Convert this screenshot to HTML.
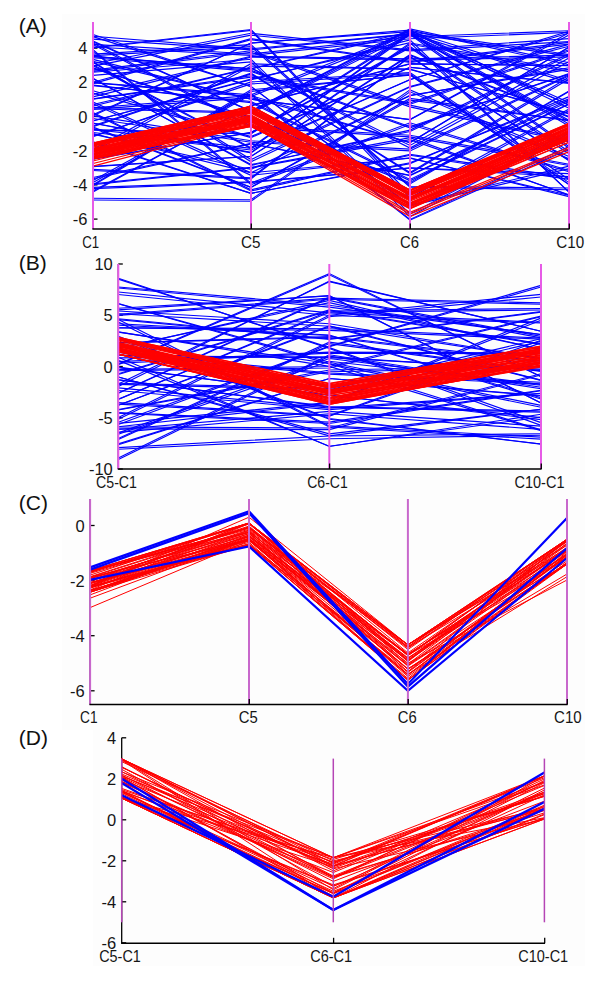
<!DOCTYPE html>
<html><head><meta charset="utf-8"><style>
html,body{margin:0;padding:0;background:#fff;}
svg{display:block;font-family:"Liberation Sans", sans-serif;}
</style></head><body>
<svg width="600" height="988" viewBox="0 0 600 988">
<rect x="62" y="14" width="523" height="238" fill="#fdfdfd"/>
<rect x="62" y="252" width="523" height="240" fill="#fdfdfd"/>
<rect x="62" y="492" width="523" height="238" fill="#fdfdfd"/>
<rect x="93" y="730" width="492" height="236" fill="#fdfdfd"/>
<line x1="93" y1="22" x2="93" y2="229" stroke="#000" stroke-width="1.3"/>
<line x1="93" y1="48.1" x2="97.5" y2="48.1" stroke="#000" stroke-width="1.3"/>
<line x1="93" y1="82.3" x2="97.5" y2="82.3" stroke="#000" stroke-width="1.3"/>
<line x1="93" y1="116.5" x2="97.5" y2="116.5" stroke="#000" stroke-width="1.3"/>
<line x1="93" y1="150.7" x2="97.5" y2="150.7" stroke="#000" stroke-width="1.3"/>
<line x1="93" y1="184.9" x2="97.5" y2="184.9" stroke="#000" stroke-width="1.3"/>
<line x1="93" y1="219.1" x2="97.5" y2="219.1" stroke="#000" stroke-width="1.3"/>
<polyline points="93.0,36.6 251.0,86.6 410.0,205.8 569.0,168.6" fill="none" stroke="#0000ff" stroke-width="1.15"/>
<polyline points="93.0,34.5 251.0,86.4 410.0,204.9 569.0,166.1" fill="none" stroke="#0000ff" stroke-width="1.15"/>
<polyline points="93.0,39.1 251.0,49.9 410.0,34.2 569.0,125.9" fill="none" stroke="#0000ff" stroke-width="1.15"/>
<polyline points="93.0,36.2 251.0,48.8 410.0,33.9 569.0,124.0" fill="none" stroke="#0000ff" stroke-width="1.15"/>
<polyline points="93.0,41.7 251.0,111.3 410.0,30.2 569.0,64.8" fill="none" stroke="#0000ff" stroke-width="1.15"/>
<polyline points="93.0,41.0 251.0,111.0 410.0,28.9 569.0,62.8" fill="none" stroke="#0000ff" stroke-width="1.15"/>
<polyline points="93.0,44.6 251.0,127.5 410.0,136.9 569.0,165.5" fill="none" stroke="#0000ff" stroke-width="1.15"/>
<polyline points="93.0,42.9 251.0,126.1 410.0,135.2 569.0,164.2" fill="none" stroke="#0000ff" stroke-width="1.15"/>
<polyline points="93.0,47.0 251.0,55.4 410.0,38.8 569.0,32.4" fill="none" stroke="#0000ff" stroke-width="1.15"/>
<polyline points="93.0,44.4 251.0,54.0 410.0,36.8 569.0,30.8" fill="none" stroke="#0000ff" stroke-width="1.15"/>
<polyline points="93.0,48.0 251.0,30.4 410.0,197.8 569.0,110.4" fill="none" stroke="#0000ff" stroke-width="1.15"/>
<polyline points="93.0,47.5 251.0,29.5 410.0,194.7 569.0,109.0" fill="none" stroke="#0000ff" stroke-width="1.15"/>
<polyline points="93.0,50.9 251.0,184.7 410.0,124.5 569.0,171.7" fill="none" stroke="#0000ff" stroke-width="1.15"/>
<polyline points="93.0,49.6 251.0,183.1 410.0,122.8 569.0,170.5" fill="none" stroke="#0000ff" stroke-width="1.15"/>
<polyline points="93.0,55.6 251.0,46.6 410.0,187.3 569.0,189.8" fill="none" stroke="#0000ff" stroke-width="1.15"/>
<polyline points="93.0,54.1 251.0,44.7 410.0,186.3 569.0,188.0" fill="none" stroke="#0000ff" stroke-width="1.15"/>
<polyline points="93.0,57.7 251.0,71.4 410.0,127.9 569.0,73.5" fill="none" stroke="#0000ff" stroke-width="1.15"/>
<polyline points="93.0,56.2 251.0,70.3 410.0,126.7 569.0,74.1" fill="none" stroke="#0000ff" stroke-width="1.15"/>
<polyline points="93.0,61.4 251.0,99.2 410.0,119.6 569.0,34.9" fill="none" stroke="#0000ff" stroke-width="1.15"/>
<polyline points="93.0,59.4 251.0,99.3 410.0,119.6 569.0,32.7" fill="none" stroke="#0000ff" stroke-width="1.15"/>
<polyline points="93.0,62.2 251.0,161.8 410.0,87.1 569.0,46.2" fill="none" stroke="#0000ff" stroke-width="1.15"/>
<polyline points="93.0,61.7 251.0,159.6 410.0,86.5 569.0,44.4" fill="none" stroke="#0000ff" stroke-width="1.15"/>
<polyline points="93.0,66.1 251.0,35.2 410.0,50.9 569.0,41.6" fill="none" stroke="#0000ff" stroke-width="1.15"/>
<polyline points="93.0,63.7 251.0,33.3 410.0,49.8 569.0,38.6" fill="none" stroke="#0000ff" stroke-width="1.15"/>
<polyline points="93.0,67.8 251.0,119.4 410.0,183.9 569.0,91.5" fill="none" stroke="#0000ff" stroke-width="1.15"/>
<polyline points="93.0,68.4 251.0,117.4 410.0,182.7 569.0,90.9" fill="none" stroke="#0000ff" stroke-width="1.15"/>
<polyline points="93.0,71.4 251.0,52.3 410.0,106.9 569.0,141.7" fill="none" stroke="#0000ff" stroke-width="1.15"/>
<polyline points="93.0,70.1 251.0,50.8 410.0,105.1 569.0,140.3" fill="none" stroke="#0000ff" stroke-width="1.15"/>
<polyline points="93.0,75.4 251.0,61.9 410.0,216.6 569.0,133.2" fill="none" stroke="#0000ff" stroke-width="1.15"/>
<polyline points="93.0,72.2 251.0,59.3 410.0,213.9 569.0,131.5" fill="none" stroke="#0000ff" stroke-width="1.15"/>
<polyline points="93.0,78.8 251.0,164.6 410.0,131.5 569.0,55.5" fill="none" stroke="#0000ff" stroke-width="1.15"/>
<polyline points="93.0,78.2 251.0,165.4 410.0,130.1 569.0,53.8" fill="none" stroke="#0000ff" stroke-width="1.15"/>
<polyline points="93.0,83.6 251.0,39.7 410.0,62.5 569.0,44.1" fill="none" stroke="#0000ff" stroke-width="1.15"/>
<polyline points="93.0,82.3 251.0,38.7 410.0,61.7 569.0,42.4" fill="none" stroke="#0000ff" stroke-width="1.15"/>
<polyline points="93.0,85.1 251.0,102.6 410.0,180.8 569.0,104.2" fill="none" stroke="#0000ff" stroke-width="1.15"/>
<polyline points="93.0,85.6 251.0,101.5 410.0,179.4 569.0,103.7" fill="none" stroke="#0000ff" stroke-width="1.15"/>
<polyline points="93.0,93.1 251.0,137.6 410.0,67.4 569.0,83.4" fill="none" stroke="#0000ff" stroke-width="1.15"/>
<polyline points="93.0,90.7 251.0,136.6 410.0,67.3 569.0,82.7" fill="none" stroke="#0000ff" stroke-width="1.15"/>
<polyline points="93.0,96.9 251.0,57.1 410.0,60.2 569.0,56.9" fill="none" stroke="#0000ff" stroke-width="1.15"/>
<polyline points="93.0,94.4 251.0,56.3 410.0,58.9 569.0,55.1" fill="none" stroke="#0000ff" stroke-width="1.15"/>
<polyline points="93.0,99.1 251.0,77.1 410.0,104.2 569.0,51.0" fill="none" stroke="#0000ff" stroke-width="1.15"/>
<polyline points="93.0,98.9 251.0,75.8 410.0,102.8 569.0,49.8" fill="none" stroke="#0000ff" stroke-width="1.15"/>
<polyline points="93.0,103.8 251.0,175.3 410.0,157.9 569.0,196.6" fill="none" stroke="#0000ff" stroke-width="1.15"/>
<polyline points="93.0,102.0 251.0,172.8 410.0,158.3 569.0,195.2" fill="none" stroke="#0000ff" stroke-width="1.15"/>
<polyline points="93.0,106.0 251.0,68.2 410.0,148.0 569.0,61.5" fill="none" stroke="#0000ff" stroke-width="1.15"/>
<polyline points="93.0,104.5 251.0,67.9 410.0,145.4 569.0,58.0" fill="none" stroke="#0000ff" stroke-width="1.15"/>
<polyline points="93.0,109.4 251.0,97.6 410.0,142.6 569.0,46.9" fill="none" stroke="#0000ff" stroke-width="1.15"/>
<polyline points="93.0,107.8 251.0,95.6 410.0,142.6 569.0,47.2" fill="none" stroke="#0000ff" stroke-width="1.15"/>
<polyline points="93.0,113.6 251.0,191.0 410.0,155.3 569.0,179.4" fill="none" stroke="#0000ff" stroke-width="1.15"/>
<polyline points="93.0,112.6 251.0,189.8 410.0,154.4 569.0,177.5" fill="none" stroke="#0000ff" stroke-width="1.15"/>
<polyline points="93.0,115.7 251.0,43.0 410.0,31.6 569.0,108.2" fill="none" stroke="#0000ff" stroke-width="1.15"/>
<polyline points="93.0,114.8 251.0,43.1 410.0,30.2 569.0,105.2" fill="none" stroke="#0000ff" stroke-width="1.15"/>
<polyline points="93.0,118.5 251.0,142.3 410.0,150.9 569.0,75.7" fill="none" stroke="#0000ff" stroke-width="1.15"/>
<polyline points="93.0,115.9 251.0,140.8 410.0,149.1 569.0,74.8" fill="none" stroke="#0000ff" stroke-width="1.15"/>
<polyline points="93.0,121.0 251.0,79.1 410.0,42.7 569.0,192.1" fill="none" stroke="#0000ff" stroke-width="1.15"/>
<polyline points="93.0,120.8 251.0,79.8 410.0,39.9 569.0,192.1" fill="none" stroke="#0000ff" stroke-width="1.15"/>
<polyline points="93.0,123.3 251.0,152.9 410.0,44.3 569.0,71.6" fill="none" stroke="#0000ff" stroke-width="1.15"/>
<polyline points="93.0,123.0 251.0,152.4 410.0,43.0 569.0,69.8" fill="none" stroke="#0000ff" stroke-width="1.15"/>
<polyline points="93.0,125.8 251.0,73.1 410.0,173.5 569.0,79.0" fill="none" stroke="#0000ff" stroke-width="1.15"/>
<polyline points="93.0,126.6 251.0,74.0 410.0,172.5 569.0,77.1" fill="none" stroke="#0000ff" stroke-width="1.15"/>
<polyline points="93.0,128.3 251.0,187.4 410.0,100.1 569.0,120.6" fill="none" stroke="#0000ff" stroke-width="1.15"/>
<polyline points="93.0,127.1 251.0,187.3 410.0,98.4 569.0,120.3" fill="none" stroke="#0000ff" stroke-width="1.15"/>
<polyline points="93.0,132.5 251.0,150.0 410.0,79.5 569.0,33.0" fill="none" stroke="#0000ff" stroke-width="1.15"/>
<polyline points="93.0,129.2 251.0,148.3 410.0,79.8 569.0,31.3" fill="none" stroke="#0000ff" stroke-width="1.15"/>
<polyline points="93.0,133.5 251.0,172.8 410.0,95.4 569.0,69.4" fill="none" stroke="#0000ff" stroke-width="1.15"/>
<polyline points="93.0,134.1 251.0,169.5 410.0,95.8 569.0,67.8" fill="none" stroke="#0000ff" stroke-width="1.15"/>
<polyline points="93.0,136.0 251.0,83.9 410.0,73.8 569.0,182.6" fill="none" stroke="#0000ff" stroke-width="1.15"/>
<polyline points="93.0,136.6 251.0,81.9 410.0,72.6 569.0,179.6" fill="none" stroke="#0000ff" stroke-width="1.15"/>
<polyline points="93.0,142.8 251.0,193.3 410.0,162.8 569.0,98.7" fill="none" stroke="#0000ff" stroke-width="1.15"/>
<polyline points="93.0,141.9 251.0,193.3 410.0,163.6 569.0,96.6" fill="none" stroke="#0000ff" stroke-width="1.15"/>
<polyline points="93.0,151.7 251.0,66.0 410.0,69.1 569.0,113.9" fill="none" stroke="#0000ff" stroke-width="1.15"/>
<polyline points="93.0,149.2 251.0,63.7 410.0,69.5 569.0,113.2" fill="none" stroke="#0000ff" stroke-width="1.15"/>
<polyline points="93.0,158.8 251.0,132.6 410.0,47.7 569.0,153.7" fill="none" stroke="#0000ff" stroke-width="1.15"/>
<polyline points="93.0,159.3 251.0,132.3 410.0,46.5 569.0,151.4" fill="none" stroke="#0000ff" stroke-width="1.15"/>
<polyline points="93.0,166.7 251.0,156.5 410.0,55.5 569.0,117.2" fill="none" stroke="#0000ff" stroke-width="1.15"/>
<polyline points="93.0,166.4 251.0,156.3 410.0,54.7 569.0,116.6" fill="none" stroke="#0000ff" stroke-width="1.15"/>
<polyline points="93.0,170.5 251.0,178.9 410.0,56.8 569.0,160.7" fill="none" stroke="#0000ff" stroke-width="1.15"/>
<polyline points="93.0,169.4 251.0,177.8 410.0,56.5 569.0,160.3" fill="none" stroke="#0000ff" stroke-width="1.15"/>
<polyline points="93.0,178.7 251.0,143.9 410.0,175.6 569.0,101.6" fill="none" stroke="#0000ff" stroke-width="1.15"/>
<polyline points="93.0,177.5 251.0,143.4 410.0,175.2 569.0,99.7" fill="none" stroke="#0000ff" stroke-width="1.15"/>
<polyline points="93.0,182.4 251.0,94.8 410.0,220.2 569.0,149.2" fill="none" stroke="#0000ff" stroke-width="1.15"/>
<polyline points="93.0,180.5 251.0,93.5 410.0,219.4 569.0,146.6" fill="none" stroke="#0000ff" stroke-width="1.15"/>
<polyline points="93.0,184.7 251.0,167.9 410.0,139.7 569.0,194.7" fill="none" stroke="#0000ff" stroke-width="1.15"/>
<polyline points="93.0,183.9 251.0,167.4 410.0,137.7 569.0,195.3" fill="none" stroke="#0000ff" stroke-width="1.15"/>
<polyline points="93.0,185.6 251.0,91.4 410.0,74.7 569.0,184.6" fill="none" stroke="#0000ff" stroke-width="1.15"/>
<polyline points="93.0,184.7 251.0,89.8 410.0,75.1 569.0,184.5" fill="none" stroke="#0000ff" stroke-width="1.15"/>
<polyline points="93.0,188.6 251.0,182.5 410.0,167.9 569.0,176.6" fill="none" stroke="#0000ff" stroke-width="1.15"/>
<polyline points="93.0,187.4 251.0,181.9 410.0,168.0 569.0,173.6" fill="none" stroke="#0000ff" stroke-width="1.15"/>
<polyline points="93.0,192.0 251.0,105.4 410.0,64.0 569.0,65.5" fill="none" stroke="#0000ff" stroke-width="1.15"/>
<polyline points="93.0,191.1 251.0,105.9 410.0,63.7 569.0,65.7" fill="none" stroke="#0000ff" stroke-width="1.15"/>
<polyline points="93.0,200.0 251.0,201.2 410.0,91.8 569.0,158.9" fill="none" stroke="#0000ff" stroke-width="1.15"/>
<polyline points="93.0,198.2 251.0,199.7 410.0,89.9 569.0,156.5" fill="none" stroke="#0000ff" stroke-width="1.15"/>
<polyline points="93.0,56.4 251.0,68.8 410.0,33.6 569.0,55.9" fill="none" stroke="#0000ff" stroke-width="1.15"/>
<polyline points="93.0,56.6 251.0,68.7 410.0,31.8 569.0,54.5" fill="none" stroke="#0000ff" stroke-width="1.15"/>
<polyline points="93.0,82.7 251.0,96.6 410.0,33.7 569.0,82.6" fill="none" stroke="#0000ff" stroke-width="1.15"/>
<polyline points="93.0,82.6 251.0,94.9 410.0,31.3 569.0,80.7" fill="none" stroke="#0000ff" stroke-width="1.15"/>
<polyline points="93.0,108.8 251.0,113.4 410.0,34.3 569.0,104.8" fill="none" stroke="#0000ff" stroke-width="1.15"/>
<polyline points="93.0,107.3 251.0,112.5 410.0,32.1 569.0,102.5" fill="none" stroke="#0000ff" stroke-width="1.15"/>
<polyline points="93.0,130.3 251.0,133.7 410.0,34.5 569.0,121.6" fill="none" stroke="#0000ff" stroke-width="1.15"/>
<polyline points="93.0,129.6 251.0,133.7 410.0,32.8 569.0,120.2" fill="none" stroke="#0000ff" stroke-width="1.15"/>
<polyline points="93.0,64.8 251.0,147.7 410.0,34.5 569.0,148.2" fill="none" stroke="#0000ff" stroke-width="1.15"/>
<polyline points="93.0,65.7 251.0,148.6 410.0,32.8 569.0,146.5" fill="none" stroke="#0000ff" stroke-width="1.15"/>
<polyline points="93.0,143.3 251.0,108.5 410.0,190.0 569.0,125.1" fill="none" stroke="#ff0000" stroke-width="1.2"/>
<polyline points="93.0,143.2 251.0,106.5 410.0,193.6 569.0,124.2" fill="none" stroke="#ff0000" stroke-width="1.2"/>
<polyline points="93.0,143.9 251.0,108.7 410.0,192.8 569.0,124.4" fill="none" stroke="#ff0000" stroke-width="1.2"/>
<polyline points="93.0,145.1 251.0,106.4 410.0,191.0 569.0,124.2" fill="none" stroke="#ff0000" stroke-width="1.2"/>
<polyline points="93.0,143.0 251.0,106.2 410.0,190.0 569.0,125.0" fill="none" stroke="#ff0000" stroke-width="1.2"/>
<polyline points="93.0,144.9 251.0,108.4 410.0,192.6 569.0,123.8" fill="none" stroke="#ff0000" stroke-width="1.2"/>
<polyline points="93.0,145.4 251.0,109.8 410.0,194.1 569.0,125.0" fill="none" stroke="#ff0000" stroke-width="1.2"/>
<polyline points="93.0,145.4 251.0,106.6 410.0,192.6 569.0,123.4" fill="none" stroke="#ff0000" stroke-width="1.2"/>
<polyline points="93.0,144.4 251.0,112.2 410.0,190.5 569.0,128.3" fill="none" stroke="#ff0000" stroke-width="1.2"/>
<polyline points="93.0,147.1 251.0,110.4 410.0,195.0 569.0,128.4" fill="none" stroke="#ff0000" stroke-width="1.2"/>
<polyline points="93.0,148.4 251.0,111.0 410.0,193.8 569.0,127.1" fill="none" stroke="#ff0000" stroke-width="1.2"/>
<polyline points="93.0,146.2 251.0,111.8 410.0,194.0 569.0,130.1" fill="none" stroke="#ff0000" stroke-width="1.2"/>
<polyline points="93.0,145.4 251.0,110.6 410.0,194.2 569.0,125.8" fill="none" stroke="#ff0000" stroke-width="1.2"/>
<polyline points="93.0,150.7 251.0,108.9 410.0,195.6 569.0,128.6" fill="none" stroke="#ff0000" stroke-width="1.2"/>
<polyline points="93.0,150.8 251.0,110.1 410.0,198.1 569.0,128.7" fill="none" stroke="#ff0000" stroke-width="1.2"/>
<polyline points="93.0,148.8 251.0,112.7 410.0,197.9 569.0,128.6" fill="none" stroke="#ff0000" stroke-width="1.2"/>
<polyline points="93.0,149.3 251.0,114.9 410.0,200.2 569.0,127.1" fill="none" stroke="#ff0000" stroke-width="1.2"/>
<polyline points="93.0,151.8 251.0,116.3 410.0,197.1 569.0,131.6" fill="none" stroke="#ff0000" stroke-width="1.2"/>
<polyline points="93.0,149.6 251.0,118.0 410.0,198.6 569.0,131.3" fill="none" stroke="#ff0000" stroke-width="1.2"/>
<polyline points="93.0,150.3 251.0,115.4 410.0,198.5 569.0,130.8" fill="none" stroke="#ff0000" stroke-width="1.2"/>
<polyline points="93.0,153.6 251.0,113.1 410.0,193.8 569.0,132.3" fill="none" stroke="#ff0000" stroke-width="1.2"/>
<polyline points="93.0,151.1 251.0,117.4 410.0,199.4 569.0,132.7" fill="none" stroke="#ff0000" stroke-width="1.2"/>
<polyline points="93.0,152.1 251.0,118.8 410.0,199.4 569.0,132.9" fill="none" stroke="#ff0000" stroke-width="1.2"/>
<polyline points="93.0,154.6 251.0,118.6 410.0,199.1 569.0,137.4" fill="none" stroke="#ff0000" stroke-width="1.2"/>
<polyline points="93.0,153.5 251.0,117.2 410.0,199.2 569.0,134.8" fill="none" stroke="#ff0000" stroke-width="1.2"/>
<polyline points="93.0,151.8 251.0,117.0 410.0,199.5 569.0,134.0" fill="none" stroke="#ff0000" stroke-width="1.2"/>
<polyline points="93.0,154.7 251.0,118.5 410.0,199.7 569.0,136.2" fill="none" stroke="#ff0000" stroke-width="1.2"/>
<polyline points="93.0,153.7 251.0,121.1 410.0,204.2 569.0,135.4" fill="none" stroke="#ff0000" stroke-width="1.2"/>
<polyline points="93.0,153.8 251.0,120.1 410.0,201.1 569.0,137.1" fill="none" stroke="#ff0000" stroke-width="1.2"/>
<polyline points="93.0,156.2 251.0,120.9 410.0,202.9 569.0,136.2" fill="none" stroke="#ff0000" stroke-width="1.2"/>
<polyline points="93.0,153.8 251.0,119.8 410.0,203.1 569.0,135.7" fill="none" stroke="#ff0000" stroke-width="1.2"/>
<polyline points="93.0,154.6 251.0,119.0 410.0,204.7 569.0,137.5" fill="none" stroke="#ff0000" stroke-width="1.2"/>
<polyline points="93.0,154.1 251.0,118.3 410.0,204.6 569.0,139.6" fill="none" stroke="#ff0000" stroke-width="1.2"/>
<polyline points="93.0,155.0 251.0,121.8 410.0,204.2 569.0,139.3" fill="none" stroke="#ff0000" stroke-width="1.2"/>
<polyline points="93.0,155.2 251.0,124.7 410.0,205.0 569.0,140.2" fill="none" stroke="#ff0000" stroke-width="1.2"/>
<polyline points="93.0,156.8 251.0,123.2 410.0,203.7 569.0,138.2" fill="none" stroke="#ff0000" stroke-width="1.2"/>
<polyline points="93.0,156.8 251.0,125.2 410.0,206.7 569.0,138.6" fill="none" stroke="#ff0000" stroke-width="1.2"/>
<polyline points="93.0,158.0 251.0,126.2 410.0,206.6 569.0,139.5" fill="none" stroke="#ff0000" stroke-width="1.2"/>
<polyline points="93.0,157.4 251.0,126.4 410.0,208.1 569.0,139.2" fill="none" stroke="#ff0000" stroke-width="1.2"/>
<polyline points="93.0,158.8 251.0,124.8 410.0,206.6 569.0,142.2" fill="none" stroke="#ff0000" stroke-width="1.2"/>
<polyline points="93.0,159.2 251.0,124.8 410.0,208.3 569.0,142.2" fill="none" stroke="#ff0000" stroke-width="1.2"/>
<polyline points="93.0,158.2 251.0,126.3 410.0,208.8 569.0,139.2" fill="none" stroke="#ff0000" stroke-width="1.2"/>
<polyline points="93.0,161.0 251.0,121.6 410.0,212.3 569.0,147.3" fill="none" stroke="#ff0000" stroke-width="1.2"/>
<polyline points="93.0,163.5 251.0,124.2 410.0,214.0 569.0,149.0" fill="none" stroke="#ff0000" stroke-width="1.2"/>
<polyline points="93.0,166.1 251.0,125.0 410.0,216.5 569.0,151.6" fill="none" stroke="#ff0000" stroke-width="1.2"/>
<polyline points="93.0,154.1 251.0,106.2 410.0,190.0 569.0,123.3" fill="none" stroke="#ff0000" stroke-width="1.2"/>
<line x1="93" y1="22" x2="93" y2="229" stroke="#e65ae6" stroke-width="2"/>
<line x1="251" y1="22" x2="251" y2="229" stroke="#e65ae6" stroke-width="2"/>
<line x1="410" y1="22" x2="410" y2="229" stroke="#e65ae6" stroke-width="2"/>
<line x1="569" y1="22" x2="569" y2="229" stroke="#e65ae6" stroke-width="2"/>
<line x1="92.4" y1="229" x2="569.6" y2="229" stroke="#000" stroke-width="1.6"/>
<line x1="251.3" y1="223.5" x2="251.3" y2="229" stroke="#000" stroke-width="1.3"/>
<line x1="410.3" y1="223.5" x2="410.3" y2="229" stroke="#000" stroke-width="1.3"/>
<line x1="569.3" y1="223.5" x2="569.3" y2="229" stroke="#000" stroke-width="1.3"/>
<text x="87.5" y="48.1" font-size="16.5" text-anchor="end" dominant-baseline="central" fill="#151515">4</text>
<text x="87.5" y="82.3" font-size="16.5" text-anchor="end" dominant-baseline="central" fill="#151515">2</text>
<text x="87.5" y="116.5" font-size="16.5" text-anchor="end" dominant-baseline="central" fill="#151515">0</text>
<text x="87.5" y="150.7" font-size="16.5" text-anchor="end" dominant-baseline="central" fill="#151515">-2</text>
<text x="87.5" y="184.9" font-size="16.5" text-anchor="end" dominant-baseline="central" fill="#151515">-4</text>
<text x="87.5" y="219.1" font-size="16.5" text-anchor="end" dominant-baseline="central" fill="#151515">-6</text>
<text x="90.7" y="241.9" font-size="16.5" text-anchor="middle" dominant-baseline="central" fill="#151515" textLength="16.9" lengthAdjust="spacingAndGlyphs">C1</text>
<text x="250.8" y="241.9" font-size="16.5" text-anchor="middle" dominant-baseline="central" fill="#151515" textLength="19.5" lengthAdjust="spacingAndGlyphs">C5</text>
<text x="409.6" y="241.9" font-size="16.5" text-anchor="middle" dominant-baseline="central" fill="#151515" textLength="19.0" lengthAdjust="spacingAndGlyphs">C6</text>
<text x="570.2" y="241.9" font-size="16.5" text-anchor="middle" dominant-baseline="central" fill="#151515" textLength="27.9" lengthAdjust="spacingAndGlyphs">C10</text>
<text x="18.8" y="25.9" font-size="21" text-anchor="start" dominant-baseline="central" fill="#111">(A)</text>
<line x1="118.3" y1="264" x2="118.3" y2="469" stroke="#000" stroke-width="1.3"/>
<line x1="118.3" y1="264.0" x2="122.8" y2="264.0" stroke="#000" stroke-width="1.3"/>
<line x1="118.3" y1="315.2" x2="122.8" y2="315.2" stroke="#000" stroke-width="1.3"/>
<line x1="118.3" y1="366.5" x2="122.8" y2="366.5" stroke="#000" stroke-width="1.3"/>
<line x1="118.3" y1="417.8" x2="122.8" y2="417.8" stroke="#000" stroke-width="1.3"/>
<line x1="118.3" y1="469.0" x2="122.8" y2="469.0" stroke="#000" stroke-width="1.3"/>
<polyline points="118.3,278.2 329.3,348.5 541.0,425.4" fill="none" stroke="#0000ff" stroke-width="1.15"/>
<polyline points="118.3,279.1 329.3,347.6 541.0,422.6" fill="none" stroke="#0000ff" stroke-width="1.15"/>
<polyline points="118.3,288.0 329.3,307.1 541.0,334.6" fill="none" stroke="#0000ff" stroke-width="1.15"/>
<polyline points="118.3,287.0 329.3,305.2 541.0,334.5" fill="none" stroke="#0000ff" stroke-width="1.15"/>
<polyline points="118.3,294.5 329.3,315.5 541.0,323.0" fill="none" stroke="#0000ff" stroke-width="1.15"/>
<polyline points="118.3,292.0 329.3,312.9 541.0,322.2" fill="none" stroke="#0000ff" stroke-width="1.15"/>
<polyline points="118.3,303.8 329.3,363.9 541.0,407.3" fill="none" stroke="#0000ff" stroke-width="1.15"/>
<polyline points="118.3,303.6 329.3,362.2 541.0,405.4" fill="none" stroke="#0000ff" stroke-width="1.15"/>
<polyline points="118.3,309.9 329.3,295.6 541.0,403.0" fill="none" stroke="#0000ff" stroke-width="1.15"/>
<polyline points="118.3,308.2 329.3,295.9 541.0,403.0" fill="none" stroke="#0000ff" stroke-width="1.15"/>
<polyline points="118.3,313.8 329.3,326.2 541.0,358.7" fill="none" stroke="#0000ff" stroke-width="1.15"/>
<polyline points="118.3,311.0 329.3,323.7 541.0,358.3" fill="none" stroke="#0000ff" stroke-width="1.15"/>
<polyline points="118.3,315.4 329.3,299.3 541.0,304.2" fill="none" stroke="#0000ff" stroke-width="1.15"/>
<polyline points="118.3,314.2 329.3,298.2 541.0,302.9" fill="none" stroke="#0000ff" stroke-width="1.15"/>
<polyline points="118.3,319.6 329.3,339.3 541.0,312.1" fill="none" stroke="#0000ff" stroke-width="1.15"/>
<polyline points="118.3,318.8 329.3,338.7 541.0,311.5" fill="none" stroke="#0000ff" stroke-width="1.15"/>
<polyline points="118.3,321.9 329.3,427.0 541.0,439.1" fill="none" stroke="#0000ff" stroke-width="1.15"/>
<polyline points="118.3,319.6 329.3,425.9 541.0,437.1" fill="none" stroke="#0000ff" stroke-width="1.15"/>
<polyline points="118.3,325.2 329.3,335.5 541.0,399.0" fill="none" stroke="#0000ff" stroke-width="1.15"/>
<polyline points="118.3,323.7 329.3,335.0 541.0,397.7" fill="none" stroke="#0000ff" stroke-width="1.15"/>
<polyline points="118.3,327.9 329.3,330.4 541.0,339.1" fill="none" stroke="#0000ff" stroke-width="1.15"/>
<polyline points="118.3,327.7 329.3,328.7 541.0,338.0" fill="none" stroke="#0000ff" stroke-width="1.15"/>
<polyline points="118.3,331.9 329.3,366.4 541.0,430.6" fill="none" stroke="#0000ff" stroke-width="1.15"/>
<polyline points="118.3,332.1 329.3,363.5 541.0,429.9" fill="none" stroke="#0000ff" stroke-width="1.15"/>
<polyline points="118.3,337.7 329.3,419.2 541.0,444.1" fill="none" stroke="#0000ff" stroke-width="1.15"/>
<polyline points="118.3,336.3 329.3,418.5 541.0,444.0" fill="none" stroke="#0000ff" stroke-width="1.15"/>
<polyline points="118.3,342.9 329.3,337.5 541.0,362.7" fill="none" stroke="#0000ff" stroke-width="1.15"/>
<polyline points="118.3,342.8 329.3,336.5 541.0,361.3" fill="none" stroke="#0000ff" stroke-width="1.15"/>
<polyline points="118.3,347.7 329.3,302.7 541.0,349.4" fill="none" stroke="#0000ff" stroke-width="1.15"/>
<polyline points="118.3,348.6 329.3,300.4 541.0,349.4" fill="none" stroke="#0000ff" stroke-width="1.15"/>
<polyline points="118.3,354.5 329.3,374.1 541.0,383.9" fill="none" stroke="#0000ff" stroke-width="1.15"/>
<polyline points="118.3,352.5 329.3,373.0 541.0,382.3" fill="none" stroke="#0000ff" stroke-width="1.15"/>
<polyline points="118.3,357.9 329.3,356.8 541.0,370.4" fill="none" stroke="#0000ff" stroke-width="1.15"/>
<polyline points="118.3,355.5 329.3,357.6 541.0,369.4" fill="none" stroke="#0000ff" stroke-width="1.15"/>
<polyline points="118.3,360.4 329.3,446.2 541.0,417.0" fill="none" stroke="#0000ff" stroke-width="1.15"/>
<polyline points="118.3,357.3 329.3,446.5 541.0,414.3" fill="none" stroke="#0000ff" stroke-width="1.15"/>
<polyline points="118.3,363.2 329.3,353.2 541.0,353.7" fill="none" stroke="#0000ff" stroke-width="1.15"/>
<polyline points="118.3,361.6 329.3,352.2 541.0,352.8" fill="none" stroke="#0000ff" stroke-width="1.15"/>
<polyline points="118.3,364.8 329.3,274.8 541.0,376.4" fill="none" stroke="#0000ff" stroke-width="1.15"/>
<polyline points="118.3,364.1 329.3,273.6 541.0,376.7" fill="none" stroke="#0000ff" stroke-width="1.15"/>
<polyline points="118.3,367.6 329.3,395.0 541.0,419.6" fill="none" stroke="#0000ff" stroke-width="1.15"/>
<polyline points="118.3,367.1 329.3,395.5 541.0,417.6" fill="none" stroke="#0000ff" stroke-width="1.15"/>
<polyline points="118.3,370.7 329.3,368.0 541.0,316.8" fill="none" stroke="#0000ff" stroke-width="1.15"/>
<polyline points="118.3,369.6 329.3,366.5 541.0,316.1" fill="none" stroke="#0000ff" stroke-width="1.15"/>
<polyline points="118.3,374.5 329.3,310.8 541.0,344.4" fill="none" stroke="#0000ff" stroke-width="1.15"/>
<polyline points="118.3,373.7 329.3,309.9 541.0,343.7" fill="none" stroke="#0000ff" stroke-width="1.15"/>
<polyline points="118.3,377.0 329.3,435.9 541.0,409.3" fill="none" stroke="#0000ff" stroke-width="1.15"/>
<polyline points="118.3,377.0 329.3,433.8 541.0,409.2" fill="none" stroke="#0000ff" stroke-width="1.15"/>
<polyline points="118.3,379.8 329.3,407.2 541.0,412.1" fill="none" stroke="#0000ff" stroke-width="1.15"/>
<polyline points="118.3,379.9 329.3,406.6 541.0,411.0" fill="none" stroke="#0000ff" stroke-width="1.15"/>
<polyline points="118.3,384.4 329.3,389.7 541.0,341.4" fill="none" stroke="#0000ff" stroke-width="1.15"/>
<polyline points="118.3,383.2 329.3,388.4 541.0,338.8" fill="none" stroke="#0000ff" stroke-width="1.15"/>
<polyline points="118.3,386.4 329.3,281.1 541.0,331.2" fill="none" stroke="#0000ff" stroke-width="1.15"/>
<polyline points="118.3,384.1 329.3,281.7 541.0,331.2" fill="none" stroke="#0000ff" stroke-width="1.15"/>
<polyline points="118.3,390.5 329.3,409.6 541.0,393.5" fill="none" stroke="#0000ff" stroke-width="1.15"/>
<polyline points="118.3,387.9 329.3,408.1 541.0,393.2" fill="none" stroke="#0000ff" stroke-width="1.15"/>
<polyline points="118.3,393.2 329.3,297.9 541.0,337.9" fill="none" stroke="#0000ff" stroke-width="1.15"/>
<polyline points="118.3,392.9 329.3,297.0 541.0,336.4" fill="none" stroke="#0000ff" stroke-width="1.15"/>
<polyline points="118.3,399.3 329.3,312.2 541.0,310.0" fill="none" stroke="#0000ff" stroke-width="1.15"/>
<polyline points="118.3,399.4 329.3,311.0 541.0,308.5" fill="none" stroke="#0000ff" stroke-width="1.15"/>
<polyline points="118.3,404.1 329.3,416.2 541.0,342.9" fill="none" stroke="#0000ff" stroke-width="1.15"/>
<polyline points="118.3,402.6 329.3,415.6 541.0,340.3" fill="none" stroke="#0000ff" stroke-width="1.15"/>
<polyline points="118.3,405.3 329.3,326.8 541.0,380.4" fill="none" stroke="#0000ff" stroke-width="1.15"/>
<polyline points="118.3,405.2 329.3,325.9 541.0,380.1" fill="none" stroke="#0000ff" stroke-width="1.15"/>
<polyline points="118.3,410.0 329.3,371.8 541.0,367.8" fill="none" stroke="#0000ff" stroke-width="1.15"/>
<polyline points="118.3,409.6 329.3,370.0 541.0,366.2" fill="none" stroke="#0000ff" stroke-width="1.15"/>
<polyline points="118.3,413.3 329.3,423.5 541.0,390.8" fill="none" stroke="#0000ff" stroke-width="1.15"/>
<polyline points="118.3,412.6 329.3,422.1 541.0,390.2" fill="none" stroke="#0000ff" stroke-width="1.15"/>
<polyline points="118.3,419.2 329.3,316.8 541.0,297.0" fill="none" stroke="#0000ff" stroke-width="1.15"/>
<polyline points="118.3,417.4 329.3,315.2 541.0,294.4" fill="none" stroke="#0000ff" stroke-width="1.15"/>
<polyline points="118.3,424.5 329.3,346.7 541.0,287.0" fill="none" stroke="#0000ff" stroke-width="1.15"/>
<polyline points="118.3,422.2 329.3,346.1 541.0,285.4" fill="none" stroke="#0000ff" stroke-width="1.15"/>
<polyline points="118.3,426.7 329.3,403.1 541.0,320.2" fill="none" stroke="#0000ff" stroke-width="1.15"/>
<polyline points="118.3,423.4 329.3,402.4 541.0,318.1" fill="none" stroke="#0000ff" stroke-width="1.15"/>
<polyline points="118.3,428.9 329.3,429.6 541.0,375.0" fill="none" stroke="#0000ff" stroke-width="1.15"/>
<polyline points="118.3,427.0 329.3,428.0 541.0,373.8" fill="none" stroke="#0000ff" stroke-width="1.15"/>
<polyline points="118.3,432.4 329.3,413.8 541.0,429.4" fill="none" stroke="#0000ff" stroke-width="1.15"/>
<polyline points="118.3,429.5 329.3,411.4 541.0,426.1" fill="none" stroke="#0000ff" stroke-width="1.15"/>
<polyline points="118.3,434.3 329.3,361.3 541.0,385.3" fill="none" stroke="#0000ff" stroke-width="1.15"/>
<polyline points="118.3,432.9 329.3,358.5 541.0,384.5" fill="none" stroke="#0000ff" stroke-width="1.15"/>
<polyline points="118.3,439.6 329.3,343.6 541.0,371.4" fill="none" stroke="#0000ff" stroke-width="1.15"/>
<polyline points="118.3,438.6 329.3,342.2 541.0,371.0" fill="none" stroke="#0000ff" stroke-width="1.15"/>
<polyline points="118.3,444.8 329.3,378.5 541.0,395.5" fill="none" stroke="#0000ff" stroke-width="1.15"/>
<polyline points="118.3,443.9 329.3,378.5 541.0,396.0" fill="none" stroke="#0000ff" stroke-width="1.15"/>
<polyline points="118.3,449.3 329.3,438.8 541.0,435.3" fill="none" stroke="#0000ff" stroke-width="1.15"/>
<polyline points="118.3,447.6 329.3,436.0 541.0,433.8" fill="none" stroke="#0000ff" stroke-width="1.15"/>
<polyline points="118.3,459.5 329.3,356.2 541.0,388.7" fill="none" stroke="#0000ff" stroke-width="1.15"/>
<polyline points="118.3,457.9 329.3,354.8 541.0,387.3" fill="none" stroke="#0000ff" stroke-width="1.15"/>
<polyline points="118.3,337.3 329.3,383.4 541.0,347.4" fill="none" stroke="#ff0000" stroke-width="1.2"/>
<polyline points="118.3,337.3 329.3,383.9 541.0,346.0" fill="none" stroke="#ff0000" stroke-width="1.2"/>
<polyline points="118.3,339.7 329.3,384.9 541.0,349.5" fill="none" stroke="#ff0000" stroke-width="1.2"/>
<polyline points="118.3,338.0 329.3,385.8 541.0,347.2" fill="none" stroke="#ff0000" stroke-width="1.2"/>
<polyline points="118.3,338.0 329.3,385.8 541.0,346.0" fill="none" stroke="#ff0000" stroke-width="1.2"/>
<polyline points="118.3,338.9 329.3,387.2 541.0,348.7" fill="none" stroke="#ff0000" stroke-width="1.2"/>
<polyline points="118.3,339.2 329.3,390.2 541.0,349.2" fill="none" stroke="#ff0000" stroke-width="1.2"/>
<polyline points="118.3,339.4 329.3,387.3 541.0,348.7" fill="none" stroke="#ff0000" stroke-width="1.2"/>
<polyline points="118.3,340.0 329.3,386.9 541.0,353.5" fill="none" stroke="#ff0000" stroke-width="1.2"/>
<polyline points="118.3,341.0 329.3,388.2 541.0,351.7" fill="none" stroke="#ff0000" stroke-width="1.2"/>
<polyline points="118.3,344.1 329.3,388.1 541.0,350.0" fill="none" stroke="#ff0000" stroke-width="1.2"/>
<polyline points="118.3,345.1 329.3,386.5 541.0,350.9" fill="none" stroke="#ff0000" stroke-width="1.2"/>
<polyline points="118.3,343.0 329.3,393.2 541.0,350.4" fill="none" stroke="#ff0000" stroke-width="1.2"/>
<polyline points="118.3,339.2 329.3,391.0 541.0,351.6" fill="none" stroke="#ff0000" stroke-width="1.2"/>
<polyline points="118.3,342.3 329.3,391.1 541.0,353.3" fill="none" stroke="#ff0000" stroke-width="1.2"/>
<polyline points="118.3,343.6 329.3,390.1 541.0,355.6" fill="none" stroke="#ff0000" stroke-width="1.2"/>
<polyline points="118.3,345.7 329.3,391.3 541.0,353.1" fill="none" stroke="#ff0000" stroke-width="1.2"/>
<polyline points="118.3,345.0 329.3,392.6 541.0,352.6" fill="none" stroke="#ff0000" stroke-width="1.2"/>
<polyline points="118.3,343.8 329.3,394.0 541.0,354.7" fill="none" stroke="#ff0000" stroke-width="1.2"/>
<polyline points="118.3,344.3 329.3,393.1 541.0,355.3" fill="none" stroke="#ff0000" stroke-width="1.2"/>
<polyline points="118.3,345.2 329.3,390.0 541.0,358.7" fill="none" stroke="#ff0000" stroke-width="1.2"/>
<polyline points="118.3,345.8 329.3,392.2 541.0,357.9" fill="none" stroke="#ff0000" stroke-width="1.2"/>
<polyline points="118.3,346.4 329.3,394.2 541.0,358.5" fill="none" stroke="#ff0000" stroke-width="1.2"/>
<polyline points="118.3,349.4 329.3,395.6 541.0,359.9" fill="none" stroke="#ff0000" stroke-width="1.2"/>
<polyline points="118.3,349.6 329.3,393.4 541.0,356.8" fill="none" stroke="#ff0000" stroke-width="1.2"/>
<polyline points="118.3,348.1 329.3,392.7 541.0,357.7" fill="none" stroke="#ff0000" stroke-width="1.2"/>
<polyline points="118.3,349.2 329.3,397.8 541.0,359.6" fill="none" stroke="#ff0000" stroke-width="1.2"/>
<polyline points="118.3,345.3 329.3,400.5 541.0,360.1" fill="none" stroke="#ff0000" stroke-width="1.2"/>
<polyline points="118.3,349.3 329.3,397.9 541.0,356.7" fill="none" stroke="#ff0000" stroke-width="1.2"/>
<polyline points="118.3,346.7 329.3,395.5 541.0,363.3" fill="none" stroke="#ff0000" stroke-width="1.2"/>
<polyline points="118.3,347.9 329.3,397.6 541.0,360.1" fill="none" stroke="#ff0000" stroke-width="1.2"/>
<polyline points="118.3,350.2 329.3,399.3 541.0,361.5" fill="none" stroke="#ff0000" stroke-width="1.2"/>
<polyline points="118.3,348.1 329.3,393.7 541.0,361.8" fill="none" stroke="#ff0000" stroke-width="1.2"/>
<polyline points="118.3,350.5 329.3,401.5 541.0,361.8" fill="none" stroke="#ff0000" stroke-width="1.2"/>
<polyline points="118.3,349.7 329.3,400.6 541.0,359.9" fill="none" stroke="#ff0000" stroke-width="1.2"/>
<polyline points="118.3,349.5 329.3,398.7 541.0,363.4" fill="none" stroke="#ff0000" stroke-width="1.2"/>
<polyline points="118.3,354.1 329.3,402.1 541.0,365.4" fill="none" stroke="#ff0000" stroke-width="1.2"/>
<polyline points="118.3,352.0 329.3,401.8 541.0,363.2" fill="none" stroke="#ff0000" stroke-width="1.2"/>
<polyline points="118.3,351.7 329.3,397.7 541.0,362.4" fill="none" stroke="#ff0000" stroke-width="1.2"/>
<polyline points="118.3,350.7 329.3,403.7 541.0,366.0" fill="none" stroke="#ff0000" stroke-width="1.2"/>
<polyline points="118.3,354.2 329.3,404.4 541.0,364.8" fill="none" stroke="#ff0000" stroke-width="1.2"/>
<polyline points="118.3,354.2 329.3,404.4 541.0,365.8" fill="none" stroke="#ff0000" stroke-width="1.2"/>
<polyline points="118.3,354.2 329.3,403.4 541.0,363.6" fill="none" stroke="#ff0000" stroke-width="1.2"/>
<polyline points="118.3,354.2 329.3,402.8 541.0,367.0" fill="none" stroke="#ff0000" stroke-width="1.2"/>
<line x1="118.3" y1="264" x2="118.3" y2="469" stroke="#e65ae6" stroke-width="2"/>
<line x1="329.3" y1="264" x2="329.3" y2="469" stroke="#e65ae6" stroke-width="2"/>
<line x1="541" y1="264" x2="541" y2="469" stroke="#e65ae6" stroke-width="2"/>
<line x1="117.7" y1="469" x2="541.6" y2="469" stroke="#000" stroke-width="1.6"/>
<line x1="329.6" y1="463.5" x2="329.6" y2="469" stroke="#000" stroke-width="1.3"/>
<line x1="541.3" y1="463.5" x2="541.3" y2="469" stroke="#000" stroke-width="1.3"/>
<text x="112.8" y="264.0" font-size="16.5" text-anchor="end" dominant-baseline="central" fill="#151515">10</text>
<text x="112.8" y="315.2" font-size="16.5" text-anchor="end" dominant-baseline="central" fill="#151515">5</text>
<text x="112.8" y="366.5" font-size="16.5" text-anchor="end" dominant-baseline="central" fill="#151515">0</text>
<text x="112.8" y="417.8" font-size="16.5" text-anchor="end" dominant-baseline="central" fill="#151515">-5</text>
<text x="112.8" y="469.0" font-size="16.5" text-anchor="end" dominant-baseline="central" fill="#151515">-10</text>
<text x="116.5" y="482.1" font-size="16.5" text-anchor="middle" dominant-baseline="central" fill="#151515" textLength="41.0" lengthAdjust="spacingAndGlyphs">C5-C1</text>
<text x="327.5" y="482.1" font-size="16.5" text-anchor="middle" dominant-baseline="central" fill="#151515" textLength="40.6" lengthAdjust="spacingAndGlyphs">C6-C1</text>
<text x="539.5" y="482.1" font-size="16.5" text-anchor="middle" dominant-baseline="central" fill="#151515" textLength="49.9" lengthAdjust="spacingAndGlyphs">C10-C1</text>
<text x="18.8" y="262.6" font-size="21" text-anchor="start" dominant-baseline="central" fill="#111">(B)</text>
<line x1="90.1" y1="499" x2="90.1" y2="704.5" stroke="#000" stroke-width="1.3"/>
<line x1="90.1" y1="525.5" x2="94.6" y2="525.5" stroke="#000" stroke-width="1.3"/>
<line x1="90.1" y1="580.6" x2="94.6" y2="580.6" stroke="#000" stroke-width="1.3"/>
<line x1="90.1" y1="635.7" x2="94.6" y2="635.7" stroke="#000" stroke-width="1.3"/>
<line x1="90.1" y1="690.8" x2="94.6" y2="690.8" stroke="#000" stroke-width="1.3"/>
<polyline points="90.1,571.4 249.0,529.3 407.9,644.8 567.0,545.0" fill="none" stroke="#ff0000" stroke-width="1.0"/>
<polyline points="90.1,570.7 249.0,523.0 407.9,660.7 567.0,540.9" fill="none" stroke="#ff0000" stroke-width="1.0"/>
<polyline points="90.1,571.6 249.0,527.8 407.9,655.5 567.0,540.5" fill="none" stroke="#ff0000" stroke-width="1.0"/>
<polyline points="90.1,575.1 249.0,523.0 407.9,644.8 567.0,539.3" fill="none" stroke="#ff0000" stroke-width="1.0"/>
<polyline points="90.1,570.7 249.0,523.0 407.9,644.8 567.0,540.4" fill="none" stroke="#ff0000" stroke-width="1.0"/>
<polyline points="90.1,572.4 249.0,524.1 407.9,649.5 567.0,539.3" fill="none" stroke="#ff0000" stroke-width="1.0"/>
<polyline points="90.1,573.3 249.0,527.3 407.9,655.6 567.0,539.3" fill="none" stroke="#ff0000" stroke-width="1.0"/>
<polyline points="90.1,572.3 249.0,523.0 407.9,646.6 567.0,539.3" fill="none" stroke="#ff0000" stroke-width="1.0"/>
<polyline points="90.1,570.7 249.0,532.4 407.9,644.8 567.0,548.2" fill="none" stroke="#ff0000" stroke-width="1.0"/>
<polyline points="90.1,576.7 249.0,526.1 407.9,655.6 567.0,547.3" fill="none" stroke="#ff0000" stroke-width="1.0"/>
<polyline points="90.1,580.5 249.0,526.9 407.9,648.2 567.0,541.6" fill="none" stroke="#ff0000" stroke-width="1.0"/>
<polyline points="90.1,571.4 249.0,528.3 407.9,647.5 567.0,551.3" fill="none" stroke="#ff0000" stroke-width="1.0"/>
<polyline points="90.1,570.7 249.0,523.7 407.9,647.0 567.0,539.3" fill="none" stroke="#ff0000" stroke-width="1.0"/>
<polyline points="90.1,586.0 249.0,523.0 407.9,652.9 567.0,543.7" fill="none" stroke="#ff0000" stroke-width="1.0"/>
<polyline points="90.1,585.3 249.0,523.0 407.9,664.2 567.0,543.1" fill="none" stroke="#ff0000" stroke-width="1.0"/>
<polyline points="90.1,577.2 249.0,527.2 407.9,661.6 567.0,541.4" fill="none" stroke="#ff0000" stroke-width="1.0"/>
<polyline points="90.1,578.0 249.0,532.6 407.9,671.7 567.0,539.3" fill="none" stroke="#ff0000" stroke-width="1.0"/>
<polyline points="90.1,586.1 249.0,536.0 407.9,654.5 567.0,550.4" fill="none" stroke="#ff0000" stroke-width="1.0"/>
<polyline points="90.1,577.1 249.0,539.9 407.9,660.6 567.0,548.1" fill="none" stroke="#ff0000" stroke-width="1.0"/>
<polyline points="90.1,578.7 249.0,531.4 407.9,658.4 567.0,545.0" fill="none" stroke="#ff0000" stroke-width="1.0"/>
<polyline points="90.1,590.0 249.0,523.6 407.9,644.8 567.0,549.7" fill="none" stroke="#ff0000" stroke-width="1.0"/>
<polyline points="90.1,580.0 249.0,535.1 407.9,659.7 567.0,550.1" fill="none" stroke="#ff0000" stroke-width="1.0"/>
<polyline points="90.1,582.8 249.0,538.5 407.9,658.6 567.0,549.4" fill="none" stroke="#ff0000" stroke-width="1.0"/>
<polyline points="90.1,590.8 249.0,536.9 407.9,655.2 567.0,564.1" fill="none" stroke="#ff0000" stroke-width="1.0"/>
<polyline points="90.1,585.8 249.0,531.9 407.9,654.5 567.0,554.1" fill="none" stroke="#ff0000" stroke-width="1.0"/>
<polyline points="90.1,578.7 249.0,530.1 407.9,654.3 567.0,550.3" fill="none" stroke="#ff0000" stroke-width="1.0"/>
<polyline points="90.1,588.3 249.0,533.6 407.9,653.9 567.0,557.2" fill="none" stroke="#ff0000" stroke-width="1.0"/>
<polyline points="90.1,583.8 249.0,540.3 407.9,675.2 567.0,553.2" fill="none" stroke="#ff0000" stroke-width="1.0"/>
<polyline points="90.1,583.3 249.0,536.5 407.9,657.8 567.0,558.3" fill="none" stroke="#ff0000" stroke-width="1.0"/>
<polyline points="90.1,591.0 249.0,538.0 407.9,665.6 567.0,553.8" fill="none" stroke="#ff0000" stroke-width="1.0"/>
<polyline points="90.1,581.2 249.0,533.7 407.9,665.1 567.0,551.1" fill="none" stroke="#ff0000" stroke-width="1.0"/>
<polyline points="90.1,583.3 249.0,530.5 407.9,671.7 567.0,556.5" fill="none" stroke="#ff0000" stroke-width="1.0"/>
<polyline points="90.1,580.4 249.0,527.4 407.9,669.6 567.0,562.8" fill="none" stroke="#ff0000" stroke-width="1.0"/>
<polyline points="90.1,582.9 249.0,536.7 407.9,666.1 567.0,560.9" fill="none" stroke="#ff0000" stroke-width="1.0"/>
<polyline points="90.1,582.5 249.0,544.3 407.9,668.9 567.0,562.9" fill="none" stroke="#ff0000" stroke-width="1.0"/>
<polyline points="90.1,587.4 249.0,538.9 407.9,660.5 567.0,554.7" fill="none" stroke="#ff0000" stroke-width="1.0"/>
<polyline points="90.1,586.5 249.0,543.7 407.9,674.7 567.0,555.1" fill="none" stroke="#ff0000" stroke-width="1.0"/>
<polyline points="90.1,590.1 249.0,545.1 407.9,672.4 567.0,557.1" fill="none" stroke="#ff0000" stroke-width="1.0"/>
<polyline points="90.1,586.8 249.0,545.1 407.9,678.5 567.0,555.0" fill="none" stroke="#ff0000" stroke-width="1.0"/>
<polyline points="90.1,590.9 249.0,539.6 407.9,669.2 567.0,564.1" fill="none" stroke="#ff0000" stroke-width="1.0"/>
<polyline points="90.1,592.2 249.0,538.9 407.9,676.5 567.0,563.8" fill="none" stroke="#ff0000" stroke-width="1.0"/>
<polyline points="90.1,587.0 249.0,542.3 407.9,680.1 567.0,551.9" fill="none" stroke="#ff0000" stroke-width="1.0"/>
<polyline points="90.1,592.1 249.0,545.1 407.9,680.1 567.0,554.9" fill="none" stroke="#ff0000" stroke-width="1.0"/>
<polyline points="90.1,592.2 249.0,539.7 407.9,680.1 567.0,564.1" fill="none" stroke="#ff0000" stroke-width="1.0"/>
<polyline points="90.1,592.2 249.0,540.6 407.9,674.3 567.0,564.1" fill="none" stroke="#ff0000" stroke-width="1.0"/>
<polyline points="90.1,587.7 249.0,545.1 407.9,680.1 567.0,562.3" fill="none" stroke="#ff0000" stroke-width="1.0"/>
<polyline points="90.1,594.9 249.0,535.1 407.9,668.8 567.0,574.0" fill="none" stroke="#ff0000" stroke-width="1.0"/>
<polyline points="90.1,598.2 249.0,539.3 407.9,674.3 567.0,576.7" fill="none" stroke="#ff0000" stroke-width="1.0"/>
<polyline points="90.1,607.6 249.0,540.7 407.9,663.2 567.0,580.0" fill="none" stroke="#ff0000" stroke-width="1.0"/>
<polyline points="90.1,586.1 249.0,517.2 407.9,644.8 567.0,539.3" fill="none" stroke="#ff0000" stroke-width="1.0"/>
<polyline points="90.1,567.4 249.0,511.2 407.9,683.9 567.0,518.1" fill="none" stroke="#0000ff" stroke-width="2.2"/>
<polyline points="90.1,569.6 249.0,513.1 407.9,686.7 567.0,548.1" fill="none" stroke="#0000ff" stroke-width="2.2"/>
<polyline points="90.1,579.8 249.0,546.4 407.9,690.8 567.0,558.0" fill="none" stroke="#0000ff" stroke-width="2.2"/>
<line x1="90.1" y1="499" x2="90.1" y2="704.5" stroke="#c868cc" stroke-width="2"/>
<line x1="249" y1="499" x2="249" y2="704.5" stroke="#c868cc" stroke-width="2"/>
<line x1="407.9" y1="499" x2="407.9" y2="704.5" stroke="#c868cc" stroke-width="2"/>
<line x1="567" y1="499" x2="567" y2="704.5" stroke="#c868cc" stroke-width="2"/>
<line x1="89.5" y1="704.5" x2="567.6" y2="704.5" stroke="#000" stroke-width="1.6"/>
<line x1="249.3" y1="699.0" x2="249.3" y2="704.5" stroke="#000" stroke-width="1.3"/>
<line x1="408.2" y1="699.0" x2="408.2" y2="704.5" stroke="#000" stroke-width="1.3"/>
<line x1="567.3" y1="699.0" x2="567.3" y2="704.5" stroke="#000" stroke-width="1.3"/>
<text x="84.6" y="525.5" font-size="16.5" text-anchor="end" dominant-baseline="central" fill="#151515">0</text>
<text x="84.6" y="580.6" font-size="16.5" text-anchor="end" dominant-baseline="central" fill="#151515">-2</text>
<text x="84.6" y="635.7" font-size="16.5" text-anchor="end" dominant-baseline="central" fill="#151515">-4</text>
<text x="84.6" y="690.8" font-size="16.5" text-anchor="end" dominant-baseline="central" fill="#151515">-6</text>
<text x="88.8" y="717.4" font-size="16.5" text-anchor="middle" dominant-baseline="central" fill="#151515" textLength="17.5" lengthAdjust="spacingAndGlyphs">C1</text>
<text x="248.2" y="717.4" font-size="16.5" text-anchor="middle" dominant-baseline="central" fill="#151515" textLength="19.0" lengthAdjust="spacingAndGlyphs">C5</text>
<text x="407.2" y="717.4" font-size="16.5" text-anchor="middle" dominant-baseline="central" fill="#151515" textLength="19.0" lengthAdjust="spacingAndGlyphs">C6</text>
<text x="567.9" y="717.4" font-size="16.5" text-anchor="middle" dominant-baseline="central" fill="#151515" textLength="27.6" lengthAdjust="spacingAndGlyphs">C10</text>
<text x="18.8" y="502.9" font-size="21" text-anchor="start" dominant-baseline="central" fill="#111">(C)</text>
<line x1="121.7" y1="737.8" x2="121.7" y2="943.3" stroke="#000" stroke-width="1.3"/>
<line x1="121.7" y1="737.8" x2="126.2" y2="737.8" stroke="#000" stroke-width="1.3"/>
<line x1="121.7" y1="778.8" x2="126.2" y2="778.8" stroke="#000" stroke-width="1.3"/>
<line x1="121.7" y1="819.8" x2="126.2" y2="819.8" stroke="#000" stroke-width="1.3"/>
<line x1="121.7" y1="860.8" x2="126.2" y2="860.8" stroke="#000" stroke-width="1.3"/>
<line x1="121.7" y1="901.8" x2="126.2" y2="901.8" stroke="#000" stroke-width="1.3"/>
<line x1="121.7" y1="942.8" x2="126.2" y2="942.8" stroke="#000" stroke-width="1.3"/>
<polyline points="121.7,758.9 333.3,857.7 544.4,785.0" fill="none" stroke="#ff0000" stroke-width="1.0"/>
<polyline points="121.7,758.9 333.3,857.7 544.4,775.9" fill="none" stroke="#ff0000" stroke-width="1.0"/>
<polyline points="121.7,774.0 333.3,862.4 544.4,795.8" fill="none" stroke="#ff0000" stroke-width="1.0"/>
<polyline points="121.7,758.9 333.3,865.6 544.4,775.9" fill="none" stroke="#ff0000" stroke-width="1.0"/>
<polyline points="121.7,758.9 333.3,863.4 544.4,775.9" fill="none" stroke="#ff0000" stroke-width="1.0"/>
<polyline points="121.7,759.4 333.3,870.9 544.4,781.8" fill="none" stroke="#ff0000" stroke-width="1.0"/>
<polyline points="121.7,759.6 333.3,889.8 544.4,782.8" fill="none" stroke="#ff0000" stroke-width="1.0"/>
<polyline points="121.7,758.9 333.3,866.2 544.4,776.2" fill="none" stroke="#ff0000" stroke-width="1.0"/>
<polyline points="121.7,761.6 333.3,860.9 544.4,810.0" fill="none" stroke="#ff0000" stroke-width="1.0"/>
<polyline points="121.7,767.3 333.3,868.1 544.4,793.5" fill="none" stroke="#ff0000" stroke-width="1.0"/>
<polyline points="121.7,791.5 333.3,864.2 544.4,777.7" fill="none" stroke="#ff0000" stroke-width="1.0"/>
<polyline points="121.7,797.8 333.3,857.7 544.4,782.0" fill="none" stroke="#ff0000" stroke-width="1.0"/>
<polyline points="121.7,777.4 333.3,896.2 544.4,775.9" fill="none" stroke="#ff0000" stroke-width="1.0"/>
<polyline points="121.7,758.9 333.3,877.5 544.4,781.8" fill="none" stroke="#ff0000" stroke-width="1.0"/>
<polyline points="121.7,766.7 333.3,876.0 544.4,792.4" fill="none" stroke="#ff0000" stroke-width="1.0"/>
<polyline points="121.7,775.5 333.3,866.1 544.4,807.1" fill="none" stroke="#ff0000" stroke-width="1.0"/>
<polyline points="121.7,790.6 333.3,872.5 544.4,785.5" fill="none" stroke="#ff0000" stroke-width="1.0"/>
<polyline points="121.7,782.4 333.3,878.8 544.4,778.9" fill="none" stroke="#ff0000" stroke-width="1.0"/>
<polyline points="121.7,769.3 333.3,886.5 544.4,792.0" fill="none" stroke="#ff0000" stroke-width="1.0"/>
<polyline points="121.7,771.7 333.3,877.3 544.4,793.7" fill="none" stroke="#ff0000" stroke-width="1.0"/>
<polyline points="121.7,776.3 333.3,857.7 544.4,817.7" fill="none" stroke="#ff0000" stroke-width="1.0"/>
<polyline points="121.7,779.6 333.3,865.9 544.4,808.7" fill="none" stroke="#ff0000" stroke-width="1.0"/>
<polyline points="121.7,781.7 333.3,877.6 544.4,810.5" fill="none" stroke="#ff0000" stroke-width="1.0"/>
<polyline points="121.7,798.1 333.3,884.9 544.4,818.4" fill="none" stroke="#ff0000" stroke-width="1.0"/>
<polyline points="121.7,798.1 333.3,866.8 544.4,792.1" fill="none" stroke="#ff0000" stroke-width="1.0"/>
<polyline points="121.7,789.7 333.3,859.4 544.4,796.3" fill="none" stroke="#ff0000" stroke-width="1.0"/>
<polyline points="121.7,796.7 333.3,893.4 544.4,808.2" fill="none" stroke="#ff0000" stroke-width="1.0"/>
<polyline points="121.7,760.1 333.3,897.9 544.4,808.8" fill="none" stroke="#ff0000" stroke-width="1.0"/>
<polyline points="121.7,792.2 333.3,888.6 544.4,780.4" fill="none" stroke="#ff0000" stroke-width="1.0"/>
<polyline points="121.7,767.2 333.3,868.8 544.4,819.0" fill="none" stroke="#ff0000" stroke-width="1.0"/>
<polyline points="121.7,775.1 333.3,881.4 544.4,801.2" fill="none" stroke="#ff0000" stroke-width="1.0"/>
<polyline points="121.7,792.4 333.3,891.3 544.4,808.9" fill="none" stroke="#ff0000" stroke-width="1.0"/>
<polyline points="121.7,771.8 333.3,857.7 544.4,808.5" fill="none" stroke="#ff0000" stroke-width="1.0"/>
<polyline points="121.7,790.6 333.3,897.9 544.4,806.0" fill="none" stroke="#ff0000" stroke-width="1.0"/>
<polyline points="121.7,781.1 333.3,892.8 544.4,788.1" fill="none" stroke="#ff0000" stroke-width="1.0"/>
<polyline points="121.7,776.9 333.3,876.6 544.4,812.9" fill="none" stroke="#ff0000" stroke-width="1.0"/>
<polyline points="121.7,798.1 333.3,897.9 544.4,819.0" fill="none" stroke="#ff0000" stroke-width="1.0"/>
<polyline points="121.7,793.6 333.3,893.8 544.4,805.2" fill="none" stroke="#ff0000" stroke-width="1.0"/>
<polyline points="121.7,788.4 333.3,862.1 544.4,796.4" fill="none" stroke="#ff0000" stroke-width="1.0"/>
<polyline points="121.7,777.4 333.3,897.9 544.4,819.0" fill="none" stroke="#ff0000" stroke-width="1.0"/>
<polyline points="121.7,798.1 333.3,897.9 544.4,809.9" fill="none" stroke="#ff0000" stroke-width="1.0"/>
<polyline points="121.7,798.1 333.3,897.9 544.4,814.7" fill="none" stroke="#ff0000" stroke-width="1.0"/>
<polyline points="121.7,798.1 333.3,892.9 544.4,794.9" fill="none" stroke="#ff0000" stroke-width="1.0"/>
<polyline points="121.7,797.4 333.3,885.8 544.4,818.0" fill="none" stroke="#ff0000" stroke-width="1.0"/>
<polyline points="121.7,791.4 333.3,897.9 544.4,790.0" fill="none" stroke="#ff0000" stroke-width="1.0"/>
<polyline points="121.7,798.1 333.3,897.9 544.4,814.0" fill="none" stroke="#ff0000" stroke-width="1.0"/>
<polyline points="121.7,778.8 333.3,910.0 544.4,802.0" fill="none" stroke="#0000ff" stroke-width="2.3"/>
<polyline points="121.7,782.9 333.3,910.0 544.4,808.9" fill="none" stroke="#0000ff" stroke-width="2.3"/>
<polyline points="121.7,795.2 333.3,896.7 544.4,772.4" fill="none" stroke="#0000ff" stroke-width="2.3"/>
<line x1="121.7" y1="758.6" x2="121.7" y2="922.3" stroke="#b545b5" stroke-width="1.5"/>
<line x1="333.3" y1="758.6" x2="333.3" y2="922.3" stroke="#b545b5" stroke-width="1.5"/>
<line x1="544.4" y1="758.6" x2="544.4" y2="922.3" stroke="#b545b5" stroke-width="1.5"/>
<line x1="121.10000000000001" y1="943.3" x2="545.0" y2="943.3" stroke="#000" stroke-width="1.6"/>
<line x1="333.6" y1="937.8" x2="333.6" y2="943.3" stroke="#000" stroke-width="1.3"/>
<line x1="544.6999999999999" y1="937.8" x2="544.6999999999999" y2="943.3" stroke="#000" stroke-width="1.3"/>
<text x="116.2" y="737.8" font-size="16.5" text-anchor="end" dominant-baseline="central" fill="#151515">4</text>
<text x="116.2" y="778.8" font-size="16.5" text-anchor="end" dominant-baseline="central" fill="#151515">2</text>
<text x="116.2" y="819.8" font-size="16.5" text-anchor="end" dominant-baseline="central" fill="#151515">0</text>
<text x="116.2" y="860.8" font-size="16.5" text-anchor="end" dominant-baseline="central" fill="#151515">-2</text>
<text x="116.2" y="901.8" font-size="16.5" text-anchor="end" dominant-baseline="central" fill="#151515">-4</text>
<text x="116.2" y="942.8" font-size="16.5" text-anchor="end" dominant-baseline="central" fill="#151515">-6</text>
<text x="120.0" y="956.4" font-size="16.5" text-anchor="middle" dominant-baseline="central" fill="#151515" textLength="41.6" lengthAdjust="spacingAndGlyphs">C5-C1</text>
<text x="331.2" y="956.4" font-size="16.5" text-anchor="middle" dominant-baseline="central" fill="#151515" textLength="41.9" lengthAdjust="spacingAndGlyphs">C6-C1</text>
<text x="543.2" y="956.4" font-size="16.5" text-anchor="middle" dominant-baseline="central" fill="#151515" textLength="50.0" lengthAdjust="spacingAndGlyphs">C10-C1</text>
<text x="18.8" y="737.6" font-size="21" text-anchor="start" dominant-baseline="central" fill="#111">(D)</text>
</svg></body></html>
